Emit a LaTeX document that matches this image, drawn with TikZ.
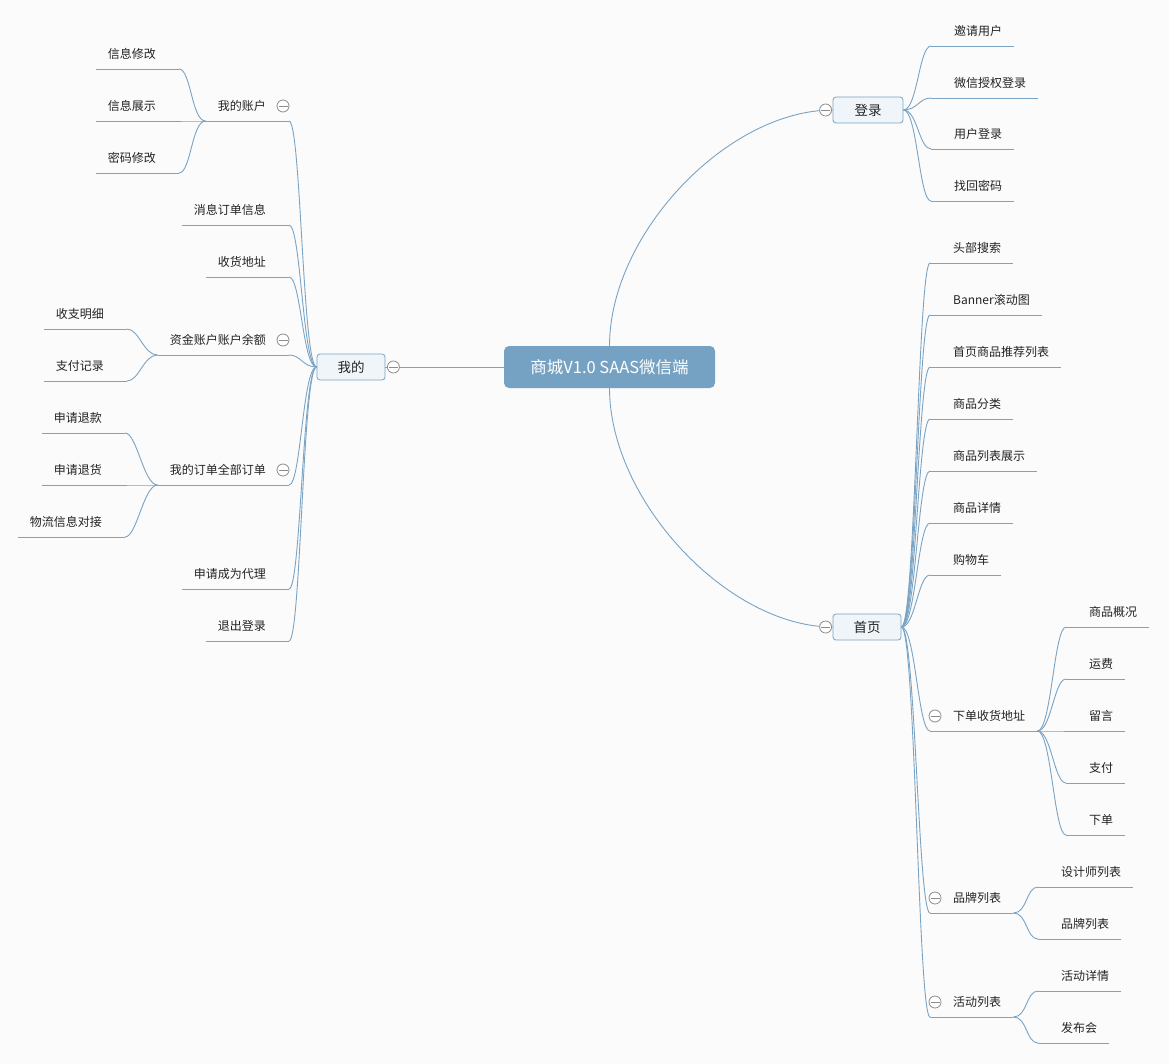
\documentclass[tikz,border=0pt]{standalone}
\usepackage{fontspec}
\newfontfamily\cjk{Noto Sans CJK SC}
\definecolor{linkblue}{RGB}{122,163,196}
\definecolor{rootblue}{RGB}{117,162,195}
\definecolor{boxfill}{RGB}{239,245,249}
\definecolor{foldgray}{RGB}{140,140,140}
\definecolor{bgcol}{RGB}{251,251,251}
\definecolor{txt}{RGB}{35,35,35}
\begin{document}
\begin{tikzpicture}[x=1pt,y=-1pt,
	link/.style={draw=linkblue, line width=0.9pt},
	root/.style={fill=rootblue, text=white, rounded corners=5pt, minimum width=211pt,
		minimum height=42pt, font={\cjk\fontsize{16.5}{19}\selectfont}},
	main/.style={draw=linkblue, fill=boxfill, rounded corners=3pt, minimum height=26pt,
		line width=0.8pt, text=txt, font={\cjk\fontsize{13.5}{16}\selectfont}},
	subr/.style={anchor=south west, inner xsep=12pt, inner ysep=10.5pt, text depth=0pt,
		text=txt, font={\cjk\fontsize{12}{14}\selectfont}},
	subl/.style={subr, anchor=south east},
	fold/.style={circle, draw=foldgray, fill=white, minimum size=12pt, inner sep=0pt,
		line width=0.8pt, path picture={\draw[foldgray, line width=0.8pt]
		([xshift=-4.5pt]path picture bounding box.center) -- ([xshift=4.5pt]path picture bounding box.center);}}]
	\path[fill=bgcol, use as bounding box] (0,0) rectangle (1169,1064);
	\node[root] (root) at (609.5,367) {商城V1.0 SAAS微信端};
	\node[main, minimum width=68pt] (wode) at (351,367) {我的};
	\node[main, minimum width=70pt] (denglu) at (868,110) {登录};
	\node[main, minimum width=68pt] (shouye) at (867,627) {首页};
	% 登录
	\node[subr] (yqyh) at (942,46) {邀请用户};
	\node[subr] (wxsq) at (942,98) {微信授权登录};
	\node[subr] (yhdl) at (942,149) {用户登录};
	\node[subr] (zhmm) at (942,201) {找回密码};
	% 首页
	\node[subr] (tbss) at (941,263) {头部搜索};
	\node[subr] (banner) at (941,315) {Banner滚动图};
	\node[subr] (sptj) at (941,367) {首页商品推荐列表};
	\node[subr] (spfl) at (941,419) {商品分类};
	\node[subr] (splb) at (941,471) {商品列表展示};
	\node[subr] (spxq) at (941,523) {商品详情};
	\node[subr] (gwc) at (941,575) {购物车};
	\node[subr] (xdsh) at (941,731) {下单收货地址};
	\node[subr] (pplb) at (941,913) {品牌列表};
	\node[subr] (hdlb) at (941,1017) {活动列表};
	\node[subr] (spgk) at (1077,627) {商品概况};
	\node[subr] (yf) at (1077,679) {运费};
	\node[subr] (ly) at (1077,731) {留言};
	\node[subr] (zf) at (1077,783) {支付};
	\node[subr] (xd) at (1077,835) {下单};
	\node[subr] (sjs) at (1049,887) {设计师列表};
	\node[subr] (pplbb) at (1049,939) {品牌列表};
	\node[subr] (hdxq) at (1049,991) {活动详情};
	\node[subr] (fbh) at (1049,1043) {发布会};
	% 我的
	\node[subl] (wdzh) at (278,121) {我的账户};
	\node[subl] (xxdd) at (278,225) {消息订单信息};
	\node[subl] (shdz) at (278,277) {收货地址};
	\node[subl] (zjzh) at (278,355) {资金账户账户余额};
	\node[subl] (wddd) at (278,485) {我的订单全部订单};
	\node[subl] (sqdl) at (278,589) {申请成为代理};
	\node[subl] (tcdl) at (278,641) {退出登录};
	\node[subl] (xxxg) at (168,69) {信息修改};
	\node[subl] (xxzs) at (168,121) {信息展示};
	\node[subl] (mmxg) at (168,173) {密码修改};
	\node[subl] (szmx) at (116,329) {收支明细};
	\node[subl] (zfjl) at (116,381) {支付记录};
	\node[subl] (sqtk) at (114,433) {申请退款};
	\node[subl] (sqth) at (114,485) {申请退货};
	\node[subl] (wlxx) at (114,537) {物流信息对接};
	% connectors
	\draw[link] (root.west) -- (wode.east);
	\draw[link] (root.north) .. controls +(0,-112) and +(-105,0) .. (denglu.west);
	\draw[link] (root.south) .. controls +(0,112) and +(-105,0) .. (shouye.west);
	\foreach \p/\c in {denglu/yqyh, denglu/wxsq, denglu/yhdl, denglu/zhmm,
		shouye/tbss, shouye/banner, shouye/sptj, shouye/spfl, shouye/splb,
		shouye/spxq, shouye/gwc, shouye/xdsh, shouye/pplb, shouye/hdlb}
		\draw[link] (\p.east) .. controls +(14,0) and +(-12,0) .. ([xshift=-11pt]\c.south west);
	\foreach \p/\c in {xdsh/spgk, xdsh/yf, xdsh/ly, xdsh/zf, xdsh/xd,
		pplb/sjs, pplb/pplbb, hdlb/hdxq, hdlb/fbh}
		\draw[link] (\p.south east) .. controls +(14,0) and +(-12,0) .. ([xshift=-11pt]\c.south west);
	\foreach \p/\c in {wode/wdzh, wode/xxdd, wode/shdz, wode/zjzh, wode/wddd,
		wode/sqdl, wode/tcdl}
		\draw[link] (\p.west) .. controls +(-14,0) and +(12,0) .. ([xshift=11pt]\c.south east);
	\foreach \p/\c in {wdzh/xxxg, wdzh/xxzs, wdzh/mmxg, zjzh/szmx, zjzh/zfjl,
		wddd/sqtk, wddd/sqth, wddd/wlxx}
		\draw[link] (\p.south west) .. controls +(-14,0) and +(12,0) .. ([xshift=11pt]\c.south east);
	% underlines
	\foreach \n in {yqyh, wxsq, yhdl, zhmm, tbss, banner, sptj, spfl, splb, spxq, gwc,
		xdsh, pplb, hdlb, spgk, yf, ly, zf, xd, sjs, pplbb, hdxq, fbh}
		\draw[link] ([xshift=-11pt]\n.south west) -- (\n.south east);
	\foreach \n in {wdzh, xxdd, shdz, zjzh, wddd, sqdl, tcdl, xxxg, xxzs, mmxg,
		szmx, zfjl, sqtk, sqth, wlxx}
		\draw[link] (\n.south west) -- ([xshift=11pt]\n.south east);
	% fold marks
	\node[fold] (fwode) at ([xshift=8pt]wode.east) {};
	\node[fold] (fdenglu) at ([xshift=-7pt]denglu.west) {};
	\node[fold] (fshouye) at ([xshift=-7pt]shouye.west) {};
	\foreach \n in {xdsh, pplb, hdlb}
		\node[fold] (f\n) at ([xshift=-6pt,yshift=15pt]\n.south west) {};
	\foreach \n in {wdzh, zjzh, wddd}
		\node[fold] (f\n) at ([xshift=5pt,yshift=15pt]\n.south east) {};
\end{tikzpicture}
\end{document}
